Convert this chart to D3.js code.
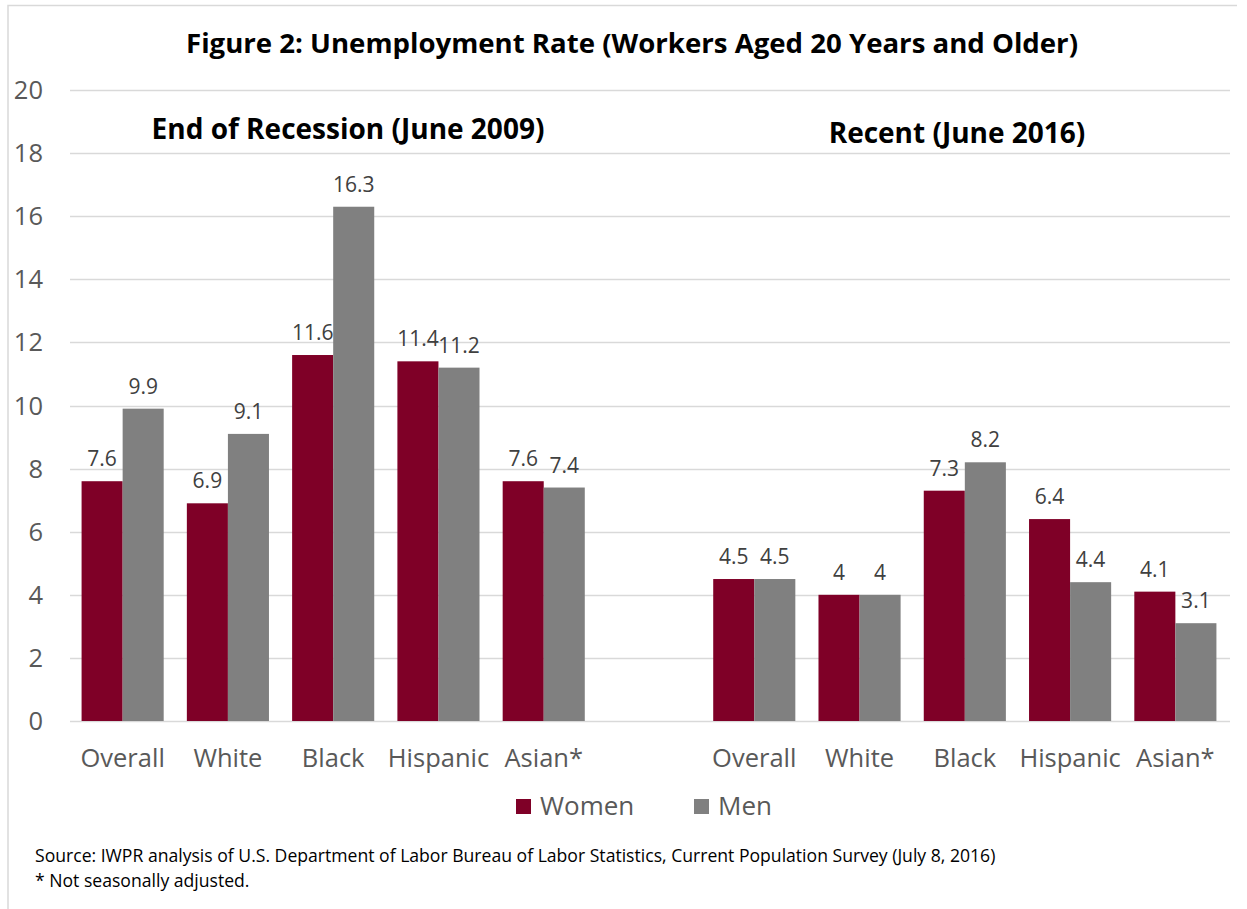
<!DOCTYPE html>
<html>
<head>
    <meta charset="utf-8">
    <title>Unemployment Rate</title>
    <script src="https://cdn.jsdelivr.net/npm/d3@7"></script>
    <style>
        body { margin: 0; background: #fff; }
        text { font-family: "Open Sans", Lato, sans-serif; }
    </style>
</head>
<body>
<script>
        var groups = ["Overall", "White", "Black", "Hispanic", "Asian*"];
        var periods = ["End of Recession (June 2009)", "Recent (June 2016)"];
        var women2009 = [7.6, 6.9, 11.6, 11.4, 7.6];
        var men2009 = [9.9, 9.1, 16.3, 11.2, 7.4];
        var women2016 = [4.5, 4, 7.3, 6.4, 4.1];
        var men2016 = [4.5, 4, 8.2, 4.4, 3.1];
        var yTicks = [0, 2, 4, 6, 8, 10, 12, 14, 16, 18, 20];

        var red = "#7f0027", grey = "#808080", ink = "#595959";

        var svg = d3.select("body").append("svg")
            .attr("width", 1247)
            .attr("height", 909);

        // outer border of the chart area
        svg.append("path")
            .attr("d", "M8,909V5.5H1237")
            .attr("fill", "none")
            .attr("stroke", "#d9d9d9")
            .attr("stroke-width", 1.5);

        // 11 slots: 5 groups, an empty gap, 5 groups
        var slots = [];
        groups.forEach(function (g) { slots.push("a-" + g); });
        slots.push("gap");
        groups.forEach(function (g) { slots.push("b-" + g); });

        var x = d3.scaleBand().domain(slots).range([70, 1228])
            .paddingInner(0.22).paddingOuter(0.11);
        var y = d3.scaleLinear().domain([0, 20]).range([721, 90]);

        svg.append("g").selectAll("line")
            .data(yTicks)
            .join("line")
            .attr("x1", 70).attr("x2", 1230)
            .attr("y1", function (d) { return Math.round(y(d)) + 0.5; })
            .attr("y2", function (d) { return Math.round(y(d)) + 0.5; })
            .attr("stroke", "#d9d9d9")
            .attr("stroke-width", 1.5);

        svg.append("g").selectAll("text")
            .data(yTicks)
            .join("text")
            .attr("x", 43)
            .attr("y", function (d) { return y(d) + 9; })
            .attr("text-anchor", "end")
            .attr("font-size", 25.5)
            .attr("fill", ink)
            .text(function (d) { return d; });

        var rows = [];
        groups.forEach(function (g, i) {
            rows.push({ slot: "a-" + g, name: g, women: women2009[i], men: men2009[i] });
            rows.push({ slot: "b-" + g, name: g, women: women2016[i], men: men2016[i] });
        });

        var series = [
            { key: "women", label: "Women", color: red },
            { key: "men", label: "Men", color: grey }
        ];
        var inner = d3.scaleBand().domain(series.map(function (s) { return s.key; }))
            .range([0, x.bandwidth()]);

        var grp = svg.append("g").selectAll("g")
            .data(rows)
            .join("g")
            .attr("transform", function (d) { return "translate(" + x(d.slot) + ",0)"; });

        series.forEach(function (s) {
            grp.append("rect")
                .attr("x", inner(s.key))
                .attr("y", function (d) { return y(d[s.key]); })
                .attr("width", inner.bandwidth())
                .attr("height", function (d) { return y(0) - y(d[s.key]); })
                .attr("fill", s.color);

            grp.append("text")
                .attr("x", inner(s.key) + inner.bandwidth() / 2)
                .attr("y", function (d) { return y(d[s.key]) - 15; })
                .attr("text-anchor", "middle")
                .attr("font-size", 21)
                .attr("fill", "#404040")
                .text(function (d) { return d[s.key]; });
        });

        grp.append("text")
            .attr("x", x.bandwidth() / 2)
            .attr("y", 767)
            .attr("text-anchor", "middle")
            .attr("font-size", 25.5)
            .attr("fill", ink)
            .text(function (d) { return d.name; });

        svg.append("text")
            .attr("x", 632).attr("y", 53)
            .attr("text-anchor", "middle")
            .attr("font-size", 27.6)
            .attr("font-weight", "bold")
            .attr("fill", "#000")
            .text("Figure 2: Unemployment Rate (Workers Aged 20 Years and Older)");

        svg.append("text")
            .attr("x", 348).attr("y", 139)
            .attr("text-anchor", "middle")
            .attr("font-size", 28)
            .attr("font-weight", "bold")
            .attr("fill", "#000")
            .text(periods[0]);

        svg.append("text")
            .attr("x", 957).attr("y", 143)
            .attr("text-anchor", "middle")
            .attr("font-size", 28)
            .attr("font-weight", "bold")
            .attr("fill", "#000")
            .text(periods[1]);

        var leg = svg.append("g").selectAll("g")
            .data(series)
            .join("g")
            .attr("transform", function (d, i) { return "translate(" + (516 + i * 178) + ",799)"; });
        leg.append("rect").attr("width", 15).attr("height", 15)
            .attr("fill", function (d) { return d.color; });
        leg.append("text")
            .attr("x", 24).attr("y", 16)
            .attr("font-size", 26)
            .attr("fill", ink)
            .text(function (d) { return d.label; });

        svg.append("text")
            .attr("x", 35).attr("y", 862)
            .attr("font-size", 17.6)
            .attr("fill", "#000")
            .text("Source: IWPR analysis of U.S. Department  of Labor Bureau of Labor Statistics, Current Population Survey  (July 8, 2016)");
        svg.append("text")
            .attr("x", 35).attr("y", 887)
            .attr("font-size", 17.6)
            .attr("fill", "#000")
            .text("* Not seasonally adjusted.");
</script>
</body>
</html>
